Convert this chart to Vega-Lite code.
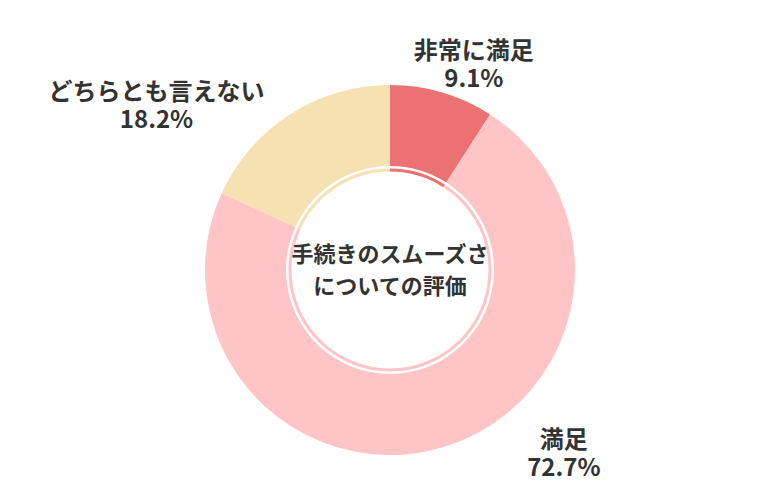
{
  "$schema": "https://vega.github.io/schema/vega-lite/v6.json",
  "width": 780,
  "height": 500,
  "autosize": {"type": "fit", "contains": "padding"},
  "padding": {"top": 40, "bottom": 0, "left": 0, "right": 0},
  "background": "white",
  "config": {"view": {"stroke": null}},
  "data": {
    "values": [
      {"name": "非常に満足", "value": 9.1, "order": 1},
      {"name": "満足", "value": 72.7, "order": 2},
      {"name": "どちらとも言えない", "value": 18.2, "order": 3}
    ]
  },
  "transform": [
    {"stack": "value", "groupby": [], "sort": [{"field": "order", "order": "ascending"}], "as": ["v0", "v1"]},
    {"calculate": "(datum.v0 + datum.v1) / 2", "as": "mid"},
    {"calculate": "[datum.name, format(datum.value, '.1f') + '%']", "as": "label"}
  ],
  "encoding": {
    "color": {
      "field": "name",
      "type": "nominal",
      "scale": {
        "domain": ["非常に満足", "満足", "どちらとも言えない"],
        "range": ["#EC7173", "#FEC4C6", "#F5E1B1"]
      },
      "legend": null
    }
  },
  "layer": [
    {
      "mark": {"type": "arc", "outerRadius": 185, "innerRadius": 104},
      "encoding": {
        "theta": {"field": "v0", "type": "quantitative", "stack": null, "scale": {"domain": [0, 100]}},
        "theta2": {"field": "v1"}
      }
    },
    {
      "mark": {"type": "arc", "outerRadius": 101.5, "innerRadius": 98.5},
      "encoding": {
        "theta": {"field": "v0", "type": "quantitative", "stack": null},
        "theta2": {"field": "v1"}
      }
    },
    {
      "transform": [{"filter": "datum.name === '非常に満足'"}],
      "mark": {"type": "text", "radius": 230, "dx": 19, "dy": 3, "align": "center", "baseline": "middle", "font": "Noto Sans CJK JP", "fontWeight": "bold", "fontSize": 24, "lineHeight": 28},
      "encoding": {
        "theta": {"field": "mid", "type": "quantitative", "stack": null},
        "text": {"field": "label"},
        "color": {"value": "#333333"}
      }
    },
    {
      "transform": [{"filter": "datum.name === '満足'"}],
      "mark": {"type": "text", "radius": 230, "dx": 109, "dy": -50, "align": "center", "baseline": "middle", "font": "Noto Sans CJK JP", "fontWeight": "bold", "fontSize": 24, "lineHeight": 28},
      "encoding": {
        "theta": {"field": "mid", "type": "quantitative", "stack": null},
        "text": {"field": "label"},
        "color": {"value": "#333333"}
      }
    },
    {
      "transform": [{"filter": "datum.name === 'どちらとも言えない'"}],
      "mark": {"type": "text", "radius": 230, "dx": -109, "dy": 16.5, "align": "center", "baseline": "middle", "font": "Noto Sans CJK JP", "fontWeight": "bold", "fontSize": 24, "lineHeight": 28},
      "encoding": {
        "theta": {"field": "mid", "type": "quantitative", "stack": null},
        "text": {"field": "label"},
        "color": {"value": "#333333"}
      }
    },
    {
      "transform": [{"filter": "datum.name === '満足'"}],
      "mark": {"type": "text", "text": ["手続きのスムーズさ", "についての評価"], "dy": -15, "align": "center", "baseline": "middle", "font": "Noto Sans CJK JP", "fontWeight": "bold", "fontSize": 22, "lineHeight": 32},
      "encoding": {
        "color": {"value": "#333333"}
      }
    }
  ]
}
